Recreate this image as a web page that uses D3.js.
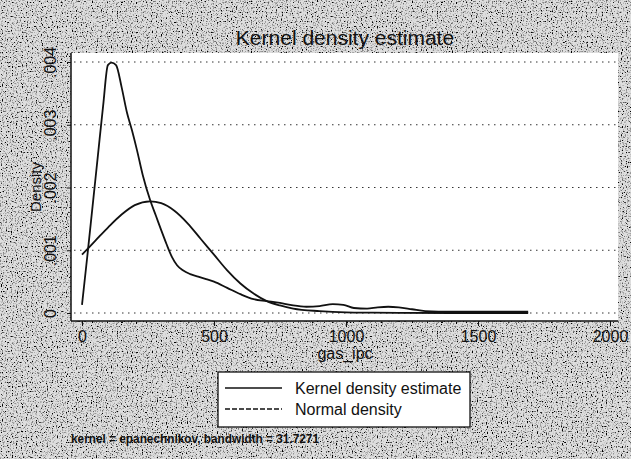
<!DOCTYPE html>
<html><head><meta charset="utf-8">
<script src="https://cdn.jsdelivr.net/npm/d3@7"></script>
<style>body{margin:0;background:#fff}svg{display:block}text{font-family:"Liberation Sans",Arial,sans-serif}</style>
</head><body><svg id="c" width="631" height="459"></svg>
<script>
const xTicks = [0, 500, 1000, 1500, 2000];
const yTicks = [0, 0.001, 0.002, 0.003, 0.004];
const yTickLabels = ["0", ".001", ".002", ".003", ".004"];
const kdeX = [0,20,40,60,80,98,112,129,150,170,190,208,230,258,280,300,320,341,360,382,410,440,470,500,550,600,650,700,750,800,850,900,950,990,1030,1080,1120,1160,1200,1250,1300,1400,1500,1600,1690];
const kdeY = [0.00013,0.0009,0.0017,0.0025,0.0033,0.00395,0.00399,0.00395,0.0036,0.0032,0.0029,0.0026,0.0022,0.0018,0.00155,0.00132,0.0011,0.00089,0.00076,0.00068,0.00062,0.00058,0.00054,0.0005,0.0004,0.0003,0.00022,0.00019,0.00016,0.00012,0.0001,0.00011,0.00014,0.00013,0.00008,0.00007,0.00009,0.0001,0.00009,0.00006,0.00003,0.00002,0.00002,0.00002,0.00002];
const normX = [0,50,100,150,200,258,300,350,400,450,500,550,600,650,700,750,800,900,1000,1100,1200,1400,1690];
const normY = [0.00093,0.00115,0.00137,0.00157,0.00172,0.00178,0.00175,0.00163,0.00143,0.00118,0.00093,0.00068,0.00047,0.00031,0.00019,0.00012,0.00007,0.00003,0.00001,0.000005,0.000002,0,0];
const legendLabels = ["Kernel density estimate", "Normal density"];
const titleText = "Kernel density estimate";
const xTitle = "gas_ipc", yTitle = "Density";
const noteText = "kernel = epanechnikov, bandwidth = 31.7271";

const svg = d3.select("#c");
const defs = svg.append("defs");
const f = defs.append("filter").attr("id","noise").attr("x",0).attr("y",0).attr("width","100%").attr("height","100%");
f.append("feTurbulence").attr("type","fractalNoise").attr("baseFrequency","0.8").attr("numOctaves",1).attr("seed",3).attr("result","t");
f.append("feColorMatrix").attr("type","matrix").attr("values","0 0 0 0 0  0 0 0 0 0  0 0 0 0 0  -5 0 0 0 2.45").attr("result","a");
f.append("feFlood").attr("flood-color","#dedede").attr("result","bg");
f.append("feComposite").attr("in","a").attr("in2","bg").attr("operator","over");

svg.append("rect").attr("width",631).attr("height",459).attr("fill","#aaa");
svg.append("rect").attr("width",631).attr("height",459).attr("filter","url(#noise)");

const x = d3.scaleLinear().domain([0,2000]).range([82,610]);
const y = d3.scaleLinear().domain([0,0.004]).range([313,62]);

// plot region
svg.append("rect").attr("x",71).attr("y",53).attr("width",547).attr("height",268).attr("fill","#fff");

// gridlines
svg.append("g").selectAll("line").data(yTicks).join("line")
  .attr("x1",74).attr("x2",616).attr("y1",d=>y(d)).attr("y2",d=>y(d))
  .attr("stroke","#333").attr("stroke-width",1).attr("stroke-dasharray","1.5,4.5");

// axes
const ax = svg.append("g").attr("transform","translate(0,321)")
  .call(d3.axisBottom(x).tickValues(xTicks).tickSize(5).tickPadding(4).tickFormat(d3.format("d")));
ax.select(".domain").attr("d","M71,0H618").attr("stroke","#111").attr("stroke-width",1.5);
ax.selectAll("text").attr("font-size",16).attr("fill","#111").attr("dy","0.72em");
ax.selectAll("line").attr("stroke","#111");

const ay = svg.append("g").attr("transform","translate(71,0)")
  .call(d3.axisLeft(y).tickValues(yTicks).tickSize(4).tickPadding(3).tickFormat((d,i)=>yTickLabels[i]));
ay.select(".domain").attr("d","M0,53V321").attr("stroke","#111").attr("stroke-width",1.5);
ay.selectAll("line").attr("stroke","#111");
ay.selectAll("text").attr("font-size",16).attr("fill","#111")
  .attr("text-anchor","middle").attr("x",0).attr("dy",0)
  .attr("transform",`translate(-15,0) rotate(-90)`);

// curves
const line = d3.line().x(d=>x(d[0])).y(d=>y(d[1])).curve(d3.curveMonotoneX);
svg.append("path").datum(kdeX.map((v,i)=>[v,kdeY[i]])).attr("d",line)
  .attr("fill","none").attr("stroke","#111").attr("stroke-width",1.8);
svg.append("path").datum(normX.map((v,i)=>[v,normY[i]])).attr("d",line)
  .attr("fill","none").attr("stroke","#111").attr("stroke-width",1.8);

// titles
svg.append("text").attr("x",345).attr("y",45).attr("text-anchor","middle").attr("font-size",21).attr("fill","#111").text(titleText);
svg.append("text").attr("x",345).attr("y",359).attr("text-anchor","middle").attr("font-size",16).attr("fill","#111").text(xTitle);
svg.append("text").attr("transform","translate(41,187) rotate(-90)").attr("text-anchor","middle").attr("font-size",15).attr("fill","#111").text(yTitle);

// legend
const lg = svg.append("g");
lg.append("rect").attr("x",218).attr("y",372).attr("width",252).attr("height",55).attr("fill","#fff").attr("stroke","#111").attr("stroke-width",1.3);
legendLabels.forEach((t,i)=>{
  const yy = 388 + i*21;
  lg.append("line").attr("x1",225).attr("x2",282).attr("y1",yy).attr("y2",yy)
    .attr("stroke","#111").attr("stroke-width",1.5).attr("stroke-dasharray", i===0 ? null : "5,2");
  lg.append("text").attr("x",295).attr("y",yy+6).attr("font-size",16).attr("fill","#111").text(t);
});

svg.append("text").attr("x",71).attr("y",443).attr("font-size",12).attr("font-weight","bold").attr("fill","#111")
  .attr("textLength",248).attr("lengthAdjust","spacingAndGlyphs").text(noteText);
</script></body></html>
